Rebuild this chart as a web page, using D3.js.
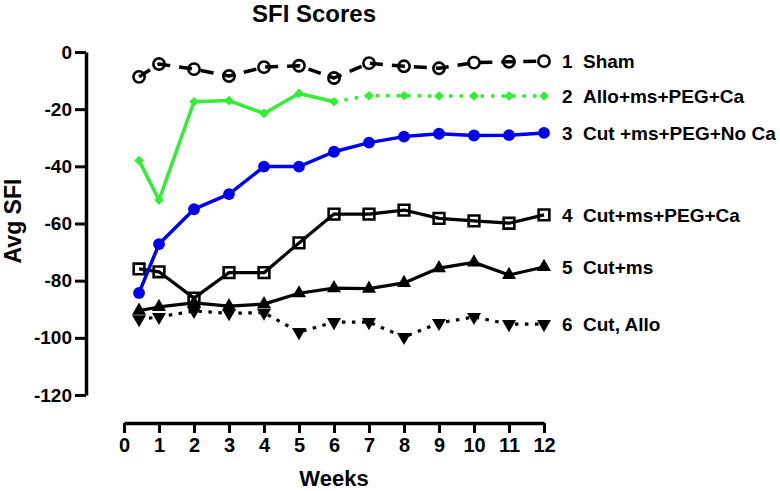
<!DOCTYPE html>
<html><head><meta charset="utf-8">
<script src="https://cdn.jsdelivr.net/npm/d3@7"></script>
<style>body{margin:0;background:#fff}svg{display:block}text{font-family:"Liberation Sans",Arial,sans-serif;font-weight:bold}</style>
</head><body><svg id="c" width="780" height="491"></svg>
<script>
const weeks = [0.43, 1, 2, 3, 4, 5, 6, 7, 8, 9, 10, 11, 12];
const sham = [-8.7, -4.2, -6, -8.4, -5.3, -4.8, -9.1, -3.9, -5, -5.7, -3.7, -3.4, -3.2];
const alloMsPegCa = [-38, -51.8, -17.4, -17, -21.5, -14.5, -17.4, -15.3, -15.3, -15.4, -15.4, -15.4, -15.4];
const cutMsPegNoCa = [-84.3, -67.2, -55, -49.7, -40.1, -40.1, -34.9, -31.7, -29.6, -28.6, -29.2, -29.1, -28.3];
const cutMsPegCa = [-75.9, -76.9, -86.1, -77.2, -77.2, -66.8, -56.7, -56.7, -55.3, -58.2, -59.1, -59.9, -57];
const cutMs = [-90.5, -89.2, -87.8, -88.9, -88.2, -84.4, -82.6, -82.8, -80.8, -75.6, -73.6, -78, -75.2];
const cutAllo = [-93.5, -92.7, -90.6, -91.4, -91.2, -98, -94.5, -94.5, -99.7, -94.8, -92.7, -95.2, -95.2];
const seriesNumbers = ["1", "2", "3", "4", "5", "6"];
const seriesNames = ["Sham", "Allo+ms+PEG+Ca", "Cut +ms+PEG+No Ca", "Cut+ms+PEG+Ca", "Cut+ms", "Cut, Allo"];
const xTicks = [0,1,2,3,4,5,6,7,8,9,10,11,12];
const yTicks = [0,-20,-40,-60,-80,-100,-120];

const svg = d3.select("#c");
const x = d3.scaleLinear().domain([0,12]).range([124,544]);
const y = d3.scaleLinear().domain([0,-120]).range([52,395]);

// axes
const ya = svg.append("g").attr("transform","translate(86,0)")
  .call(d3.axisLeft(y).tickValues(yTicks).tickFormat(d=>String(d)).tickSize(11).tickSizeOuter(0).tickPadding(3));
ya.select(".domain").attr("stroke","#000").attr("stroke-width",3.5);
ya.selectAll(".tick line").attr("stroke","#000").attr("stroke-width",3);
ya.selectAll(".tick text").attr("font-size",19).attr("fill","#000").attr("font-family","Liberation Sans, Arial").attr("font-weight","bold");

const xa = svg.append("g").attr("transform","translate(0,423)")
  .call(d3.axisBottom(x).tickValues(xTicks).tickFormat(d=>String(d)).tickSize(10).tickSizeOuter(0).tickPadding(5));
xa.select(".domain").attr("stroke","#000").attr("stroke-width",3.5);
xa.selectAll(".tick line").attr("stroke","#000").attr("stroke-width",3);
xa.selectAll(".tick text").attr("font-size",20).attr("fill","#000").attr("font-family","Liberation Sans, Arial").attr("font-weight","bold");

// titles
svg.append("text").attr("x",314).attr("y",22).attr("text-anchor","middle").attr("font-size",24).text("SFI Scores");
svg.append("text").attr("x",334).attr("y",486).attr("text-anchor","middle").attr("font-size",22).text("Weeks");
svg.append("text").attr("transform","translate(21,221) rotate(-90)").attr("text-anchor","middle").attr("font-size",23).text("Avg SFI");

const pts = v => weeks.map((w,i)=>[w,v[i]]);
const line = d3.line().x(d=>x(d[0])).y(d=>y(d[1]));

function drawLine(data, color, dash, w){
  svg.append("path").attr("d",line(data)).attr("fill","none").attr("stroke",color)
    .attr("stroke-width",w||3).attr("stroke-dasharray",dash||null).attr("stroke-linejoin","round");
}
function drawMarkers(v, type, size, fill, stroke, sw, rot){
  const sym = d3.symbol().type(type).size(size);
  svg.append("g").selectAll("path").data(pts(v)).join("path")
    .attr("transform",d=>`translate(${x(d[0])},${y(d[1])})` + (rot ? ` rotate(${rot})` : ""))
    .attr("d",sym()).attr("fill",fill).attr("stroke",stroke).attr("stroke-width",sw||0);
}

const green = "#33ee33", blue = "#0000ee";

// series 6 (dotted, triangle down)
drawLine(pts(cutAllo), "#000", "3.5,6.5", 3.2);
drawMarkers(cutAllo, d3.symbolTriangle, 85, "#000", "none", 0, 180);

// series 5 (solid, triangle up)
drawLine(pts(cutMs), "#000", null, 3.2);
drawMarkers(cutMs, d3.symbolTriangle, 85, "#000", "none");

// series 4 (squares)
drawLine(pts(cutMsPegCa), "#000", null, 3.2);
drawMarkers(cutMsPegCa, d3.symbolSquare, 115, "none", "#000", 2.6);

// series 3 (blue)
drawLine(pts(cutMsPegNoCa), blue, null, 3.5);
drawMarkers(cutMsPegNoCa, d3.symbolCircle, 110, blue, "none");

// series 2 (green)
const gp = pts(alloMsPegCa);
drawLine(gp.slice(0,7), green, null, 3.5);
drawLine(gp.slice(6), green, "3.5,7", 3.5);
drawMarkers(alloMsPegCa, d3.symbolDiamond2, 60, green, "none");

// series 1 (sham)
drawLine(pts(sham), "#000", "13,9", 3.5);
drawMarkers(sham, d3.symbolCircle, 100, "none", "#000", 2.6);

// labels
const lastVals = [sham, alloMsPegCa, cutMsPegNoCa, cutMsPegCa, cutMs, cutAllo].map(v=>v[v.length-1]);
const lg = svg.append("g");
lg.selectAll("text.num").data(seriesNumbers).join("text").attr("class","num")
  .attr("x",562).attr("y",(d,i)=>y(lastVals[i])+7).attr("font-size",19).text(d=>d);
lg.selectAll("text.nm").data(seriesNames).join("text").attr("class","nm")
  .attr("x",583).attr("y",(d,i)=>y(lastVals[i])+7).attr("font-size",19).text(d=>d);
</script></body></html>
